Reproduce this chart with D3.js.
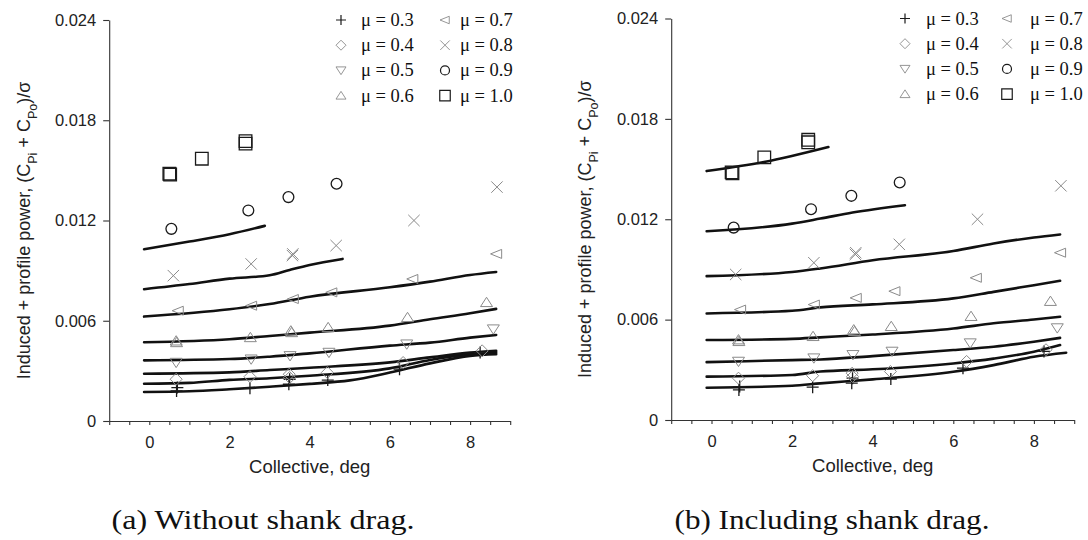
<!DOCTYPE html>
<html>
<head>
<meta charset="utf-8">
<script src="https://cdn.jsdelivr.net/npm/d3@7"></script>
<style>
  html, body { margin: 0; padding: 0; background: #fff; }
  svg { display: block; }
</style>
</head>
<body>
<svg id="chart" width="1088" height="540"></svg>
<script>
// ---------------- DATA ----------------
const muLabels = ["μ = 0.3", "μ = 0.4", "μ = 0.5", "μ = 0.6", "μ = 0.7", "μ = 0.8", "μ = 0.9", "μ = 1.0"];
const muShapes = ["plus", "diamond", "triDown", "triUp", "triLeft", "cross", "circle", "square"];
const muGray   = [false, true, true, true, true, true, false, false];

const yTickValues = [0, 0.006, 0.012, 0.018, 0.024];
const xTickLabels = [0, 2, 4, 6, 8];
const captions = ["(a) Without shank drag.", "(b) Including shank drag."];

// Experimental points [collective deg, power]
const exp03 = [[0.68,0.0018],[0.70,0.0020],[2.51,0.00196],[3.48,0.0022],[3.50,0.0025],[4.45,0.00245],[6.24,0.0031],[8.25,0.0041]];
const exp04 = [[0.67,0.0025],[2.51,0.00265],[3.49,0.0028],[3.50,0.0026],[4.44,0.0029],[6.33,0.0035],[8.30,0.0042]];
const exp05 = [[0.67,0.0035],[2.54,0.0037],[3.51,0.0039],[4.48,0.0041],[6.42,0.0046],[8.58,0.0055]];
const exp06 = [[0.67,0.0048],[0.68,0.0047],[2.52,0.0050],[3.53,0.0054],[3.55,0.0053],[4.46,0.0056],[6.44,0.0062],[8.41,0.0071]];
const exp07 = [[0.72,0.0066],[2.55,0.0069],[3.59,0.0073],[4.55,0.0077],[6.57,0.0085],[8.66,0.0100]];
const exp08 = [[0.60,0.0087],[2.54,0.0094],[3.57,0.0099],[3.58,0.0100],[4.66,0.0105],[6.60,0.0120],[8.67,0.0140]];
const exp09 = [[0.55,0.0115],[2.47,0.0126],[3.47,0.0134],[4.67,0.0142]];
const exp10 = [[0.50,0.0148],[0.52,0.01475],[1.31,0.0157],[2.40,0.0166],[2.40,0.01675]];

// Predictions, panel (a) without shank drag
const predA03 = [[-0.13,0.00174],[1,0.00178],[2,0.0019],[3,0.00205],[4,0.00222],[5,0.00243],[6,0.0029],[7,0.00345],[8,0.0039],[8.65,0.0040]];
const predA04 = [[-0.13,0.00223],[1,0.00228],[2,0.00246],[3,0.00256],[4,0.00271],[6,0.00315],[7,0.00365],[8,0.0040],[8.65,0.0041]];
const predA05 = [[-0.13,0.00283],[2,0.00291],[3,0.00305],[4,0.00319],[6,0.00351],[7,0.00381],[8,0.00409],[8.65,0.0042]];
const predA06 = [[-0.13,0.00363],[2,0.00371],[3,0.00385],[4,0.00405],[6,0.00451],[7,0.00469],[8,0.00499],[8.65,0.00515]];
const predA07 = [[-0.13,0.00471],[2,0.00489],[3,0.00509],[4,0.00529],[6,0.00571],[7,0.00609],[8,0.00645],[8.65,0.00671]];
const predA08 = [[-0.13,0.00625],[2,0.00669],[3,0.0070],[4,0.00744],[6,0.0080],[7,0.00834],[8,0.00874],[8.65,0.00892]];
const predA09 = [[-0.13,0.00789],[1,0.0082],[2,0.00852],[3,0.00872],[3.5,0.00904],[4,0.00934],[4.82,0.0097]];
const predA10 = [[-0.13,0.01028],[1,0.01074],[2,0.01118],[2.88,0.01168]];

// Predictions, panel (b) including shank drag
const predB03 = [[-0.12,0.00193],[2,0.00205],[2.7,0.00219],[4,0.00243],[6,0.00288],[7,0.00328],[8,0.00378],[8.8,0.00402]];
const predB04 = [[-0.12,0.00259],[2,0.00269],[2.7,0.0029],[4,0.00303],[6,0.00338],[7,0.00367],[8,0.00408],[8.65,0.00448]];
const predB05 = [[-0.12,0.00346],[2,0.00358],[2.7,0.00362],[4,0.00382],[6,0.00418],[7,0.00438],[8,0.00468],[8.65,0.00491]];
const predB06 = [[-0.12,0.00478],[2,0.00485],[2.7,0.00494],[4,0.00511],[6,0.00547],[7,0.00578],[8,0.00601],[8.65,0.00617]];
const predB07 = [[-0.12,0.00637],[2,0.00653],[2.7,0.00673],[4,0.00691],[6,0.00727],[7,0.00766],[8,0.00806],[8.65,0.00832]];
const predB08 = [[-0.12,0.0086],[2,0.00885],[2.7,0.00906],[4,0.00955],[6,0.0101],[7,0.01055],[8,0.01091],[8.65,0.01109]];
const predB09 = [[-0.12,0.01128],[2,0.01174],[2.7,0.01204],[3.5,0.0124],[4.8,0.01284]];
const predB10 = [[-0.12,0.01488],[1.3,0.01542],[2.9,0.01632]];

const expSeries = [exp03, exp04, exp05, exp06, exp07, exp08, exp09, exp10];
const predA = [predA03, predA04, predA05, predA06, predA07, predA08, predA09, predA10];
const predB = [predB03, predB04, predB05, predB06, predB07, predB08, predB09, predB10];

// ---------------- DRAW ----------------
const svg = d3.select("#chart");
const GRAY = "#8a8a8a", DARK = "#1a1a1a";
const sansFont = "'Liberation Sans', Arial, Helvetica, sans-serif";
const serifFont = "'Liberation Serif', 'Times New Roman', serif";

function shapePath(type, s) {
  const p = d3.path();
  if (type === "plus") { p.moveTo(-s,0); p.lineTo(s,0); p.moveTo(0,-s); p.lineTo(0,s); }
  else if (type === "cross") { const r = s*0.95; p.moveTo(-r,-r); p.lineTo(r,r); p.moveTo(-r,r); p.lineTo(r,-r); }
  else if (type === "diamond") { p.moveTo(0,-s); p.lineTo(s,0); p.lineTo(0,s); p.lineTo(-s,0); p.closePath(); }
  else if (type === "triDown") { p.moveTo(-s,-s*0.7); p.lineTo(s,-s*0.7); p.lineTo(0,s*0.85); p.closePath(); }
  else if (type === "triUp") { p.moveTo(-s,s*0.7); p.lineTo(s,s*0.7); p.lineTo(0,-s*0.85); p.closePath(); }
  else if (type === "triLeft") { p.moveTo(s*0.85,-s*0.75); p.lineTo(s*0.85,s*0.75); p.lineTo(-s,0); p.closePath(); }
  else if (type === "circle") { p.moveTo(s*0.9,0); p.arc(0,0,s*0.9,0,2*Math.PI); }
  else if (type === "square") { const r = s*1.05; p.rect(-r,-r,2*r,2*r); }
  return p.toString();
}

const panels = [
  { xRange: [109.2, 510.2], yRange: [421, 20], preds: predA, caption: captions[0], capX: 263, capW: 303,
    titleX: 30, legend: { y0: 20, sx1: 341, tx1: 361, sx2: 445, tx2: 460 } },
  { xRange: [671.2, 1074.2], yRange: [420, 18.5], preds: predB, caption: captions[1], capX: 832, capW: 315,
    titleX: 591, legend: { y0: 18.5, sx1: 905, tx1: 926, sx2: 1007, tx2: 1030 } }
];

panels.forEach(P => {
  const x = d3.scaleLinear().domain([-1, 9]).range(P.xRange);
  const y = d3.scaleLinear().domain([0, 0.024]).range(P.yRange);
  const g = svg.append("g");

  // axes
  const xAxis = d3.axisBottom(x)
    .tickValues(d3.range(-1, 9.01, 0.5))
    .tickSize(4).tickSizeOuter(0).tickPadding(11)
    .tickFormat(d => xTickLabels.includes(d) ? String(d) : "");
  const gx = g.append("g").attr("transform", `translate(0,${P.yRange[0]})`).call(xAxis);
  const yAxis = d3.axisLeft(y)
    .tickValues(yTickValues)
    .tickSize(6).tickSizeOuter(0).tickPadding(7)
    .tickFormat(d => d === 0 ? "0" : d3.format(".3f")(d));
  const gy = g.append("g").attr("transform", `translate(${P.xRange[0]},0)`).call(yAxis);
  [gx, gy].forEach(a => {
    a.selectAll("path.domain").attr("stroke", "#333").attr("stroke-width", 1.1);
    a.selectAll(".tick line").attr("stroke", "#333").attr("stroke-width", 1.1);
    a.selectAll(".tick text").attr("fill", "#222").style("font-family", sansFont).style("font-size", "16.5px");
  });

  // axis titles
  g.append("text")
    .attr("x", (x(-1) + x(9)) / 2).attr("y", P.yRange[0] + 52)
    .attr("text-anchor", "middle").attr("fill", "#222")
    .style("font-family", sansFont).style("font-size", "18.5px")
    .text("Collective, deg");
  const yt = g.append("text")
    .attr("transform", `translate(${P.titleX},${(P.yRange[0] + P.yRange[1]) / 2 + 10}) rotate(-90)`)
    .attr("text-anchor", "middle").attr("fill", "#222")
    .style("font-family", sansFont).style("font-size", "18px");
  yt.append("tspan").text("Induced + profile power, (C");
  yt.append("tspan").attr("baseline-shift", "sub").style("font-size", "12.5px").text("Pi");
  yt.append("tspan").text(" + C");
  yt.append("tspan").attr("baseline-shift", "sub").style("font-size", "12.5px").text("Po");
  yt.append("tspan").text(")/σ");

  // prediction lines
  const line = d3.line().x(d => x(d[0])).y(d => y(d[1])).curve(d3.curveMonotoneX);
  g.append("g").selectAll("path").data(P.preds).join("path")
    .attr("d", line).attr("fill", "none").attr("stroke", "#111").attr("stroke-width", 2.6)
    .attr("stroke-linecap", "round");

  // experimental markers
  expSeries.forEach((pts, i) => {
    g.append("g").selectAll("path").data(pts).join("path")
      .attr("transform", d => `translate(${x(d[0])},${y(d[1])})`)
      .attr("d", shapePath(muShapes[i], 6))
      .attr("fill", "none")
      .attr("stroke", muGray[i] ? GRAY : DARK)
      .attr("stroke-width", muGray[i] ? 1 : 1.3);
  });

  // legend
  const L = P.legend;
  muLabels.forEach((lab, i) => {
    const col = i < 4 ? 0 : 1, row = i % 4;
    const cy = L.y0 + row * 25.2;
    const sx = col === 0 ? L.sx1 : L.sx2, tx = col === 0 ? L.tx1 : L.tx2;
    g.append("path").attr("transform", `translate(${sx},${cy})`)
      .attr("d", shapePath(muShapes[i], 5))
      .attr("fill", "none").attr("stroke", muGray[i] ? GRAY : DARK)
      .attr("stroke-width", muGray[i] ? 0.9 : 1.2);
    g.append("text").attr("x", tx).attr("y", cy + 6).attr("fill", "#111")
      .style("font-family", serifFont).style("font-size", "18.5px")
      .text(lab);
  });

  // caption
  g.append("text").attr("x", P.capX).attr("y", 529).attr("text-anchor", "middle")
    .attr("textLength", P.capW).attr("lengthAdjust", "spacingAndGlyphs")
    .attr("fill", "#111").style("font-family", serifFont).style("font-size", "28px")
    .text(P.caption);
});
</script>
</body>
</html>
